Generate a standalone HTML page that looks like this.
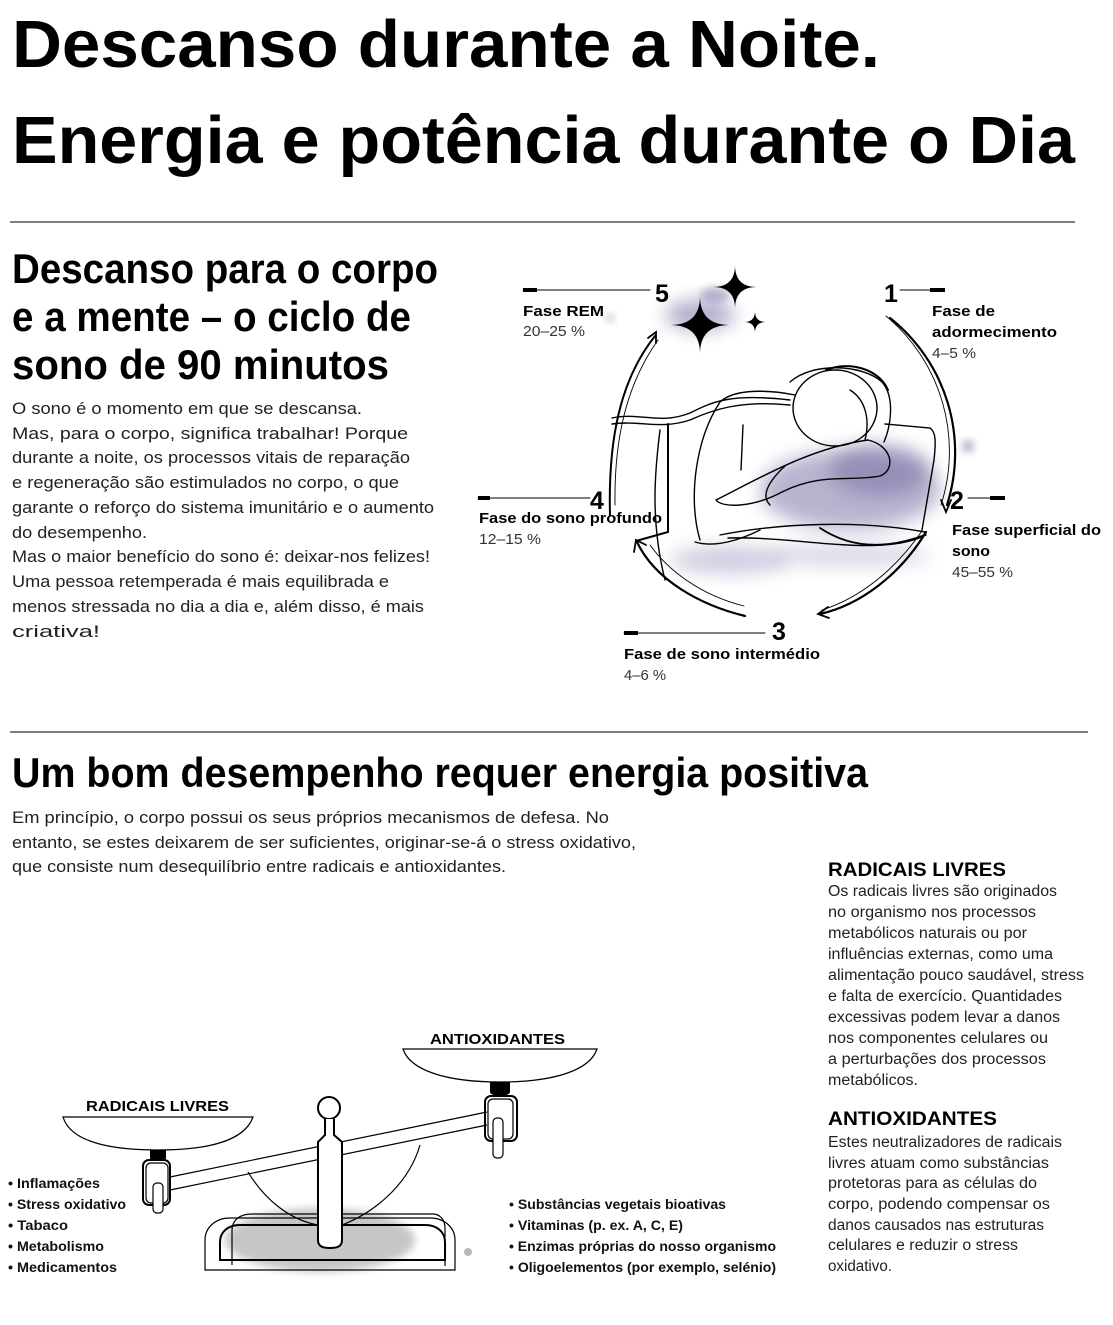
<!DOCTYPE html>
<html><head><meta charset="utf-8"><style>
html,body{margin:0;padding:0;background:#fff}
svg{display:block}
text{font-family:"Liberation Sans",sans-serif;fill:#000}
.t{font-weight:bold;font-size:67px}
.h{font-weight:bold;font-size:42px}
.b{font-size:17px;fill:#222}
.r{font-size:15.5px;fill:#222}
.rh{font-weight:bold;font-size:19px}
.l{font-weight:bold;font-size:15px}
.p{font-size:14.5px;fill:#333}
.n{font-weight:bold;font-size:25px}
.s{font-size:14px;font-weight:bold;fill:#111}
</style></head><body>
<svg width="1113" height="1325" viewBox="0 0 1113 1325" xmlns="http://www.w3.org/2000/svg">
<defs>
<filter id="bl" x="-50%" y="-50%" width="200%" height="200%"><feGaussianBlur stdDeviation="9"/></filter>
<filter id="bl2" x="-50%" y="-50%" width="200%" height="200%"><feGaussianBlur stdDeviation="4"/></filter>
</defs>
<text class="t" x="12" y="67" textLength="868" lengthAdjust="spacingAndGlyphs">Descanso durante a Noite.</text>
<text class="t" x="12" y="163" textLength="1063" lengthAdjust="spacingAndGlyphs">Energia e potência durante o Dia</text>
<line x1="10" y1="222" x2="1075" y2="222" stroke="#333" stroke-width="1.3"/>

<text class="h" x="12" y="283" textLength="426" lengthAdjust="spacingAndGlyphs">Descanso para o corpo</text>
<text class="h" x="12" y="331" textLength="399" lengthAdjust="spacingAndGlyphs">e a mente – o ciclo de</text>
<text class="h" x="12" y="379" textLength="377" lengthAdjust="spacingAndGlyphs">sono de 90 minutos</text>

<text class="b" x="12" y="414" textLength="350" lengthAdjust="spacingAndGlyphs">O sono é o momento em que se descansa.</text>
<text class="b" x="12" y="439" textLength="396" lengthAdjust="spacingAndGlyphs">Mas, para o corpo, significa trabalhar! Porque</text>
<text class="b" x="12" y="463" textLength="398" lengthAdjust="spacingAndGlyphs">durante a noite, os processos vitais de reparação</text>
<text class="b" x="12" y="488" textLength="387" lengthAdjust="spacingAndGlyphs">e regeneração são estimulados no corpo, o que</text>
<text class="b" x="12" y="513" textLength="422" lengthAdjust="spacingAndGlyphs">garante o reforço do sistema imunitário e o aumento</text>
<text class="b" x="12" y="538" textLength="135" lengthAdjust="spacingAndGlyphs">do desempenho.</text>
<text class="b" x="12" y="562" textLength="418" lengthAdjust="spacingAndGlyphs">Mas o maior benefício do sono é: deixar-nos felizes!</text>
<text class="b" x="12" y="587" textLength="377" lengthAdjust="spacingAndGlyphs">Uma pessoa retemperada é mais equilibrada e</text>
<text class="b" x="12" y="612" textLength="412" lengthAdjust="spacingAndGlyphs">menos stressada no dia a dia e, além disso, é mais</text>
<text class="b" x="12" y="637" textLength="88" lengthAdjust="spacingAndGlyphs">criativa!</text>

<!-- sleep diagram -->
<g>
<ellipse cx="850" cy="490" rx="90" ry="40" fill="#8a82b0" opacity="0.6" filter="url(#bl)"/>
<ellipse cx="880" cy="470" rx="50" ry="25" fill="#7f76a8" opacity="0.6" filter="url(#bl)"/>
<ellipse cx="730" cy="560" rx="60" ry="14" fill="#8b83b3" opacity="0.4" filter="url(#bl)"/>
<ellipse cx="850" cy="555" rx="80" ry="12" fill="#8b83b3" opacity="0.3" filter="url(#bl)"/>
<ellipse cx="700" cy="315" rx="35" ry="15" fill="#7f76a8" opacity="0.6" filter="url(#bl)"/>
<ellipse cx="715" cy="295" rx="15" ry="8" fill="#7f76a8" opacity="0.5" filter="url(#bl2)"/>
<circle cx="968" cy="446" r="6" fill="#7f76a8" opacity="0.6" filter="url(#bl2)"/>
<circle cx="610" cy="318" r="4" fill="#7f76a8" opacity="0.5" filter="url(#bl2)"/>
</g>
<g fill="none" stroke="#000" stroke-width="1.4" stroke-linecap="round">
<path d="M890,318 A172,172 0 0 1 947,505" stroke-width="2.2"/>
<path d="M886,316 A176,176 0 0 1 941,505" stroke-width="0.9"/>
<polyline points="941,500 946,512 951,500" stroke-width="1.8"/>
<path d="M926,532 C900,575 860,605 820,614" stroke-width="2.2"/>
<path d="M922,531 C895,570 860,598 822,610" stroke-width="0.9"/>
<polyline points="828,607 818,614 829,618" stroke-width="1.8"/>
<path d="M745,616 C700,605 655,580 637,542" stroke-width="2.2"/>
<path d="M744,606 C700,595 668,570 650,545" stroke-width="0.9"/>
<polyline points="634,552 636,540 646,545" stroke-width="1.8"/>
<path d="M610,515 C608,440 620,380 655,336" stroke-width="2"/>
<path d="M615,505 C614,440 626,385 658,340" stroke-width="0.9"/>
<polyline points="648,338 656,332 656,343" stroke-width="1.8"/>
<line x1="523" y1="290" x2="650" y2="290" stroke-width="1"/>
<line x1="900" y1="290" x2="930" y2="290" stroke-width="1"/>
<line x1="478" y1="498" x2="590" y2="498" stroke-width="1"/>
<line x1="968" y1="498" x2="990" y2="498" stroke-width="1"/>
<line x1="624" y1="633" x2="765" y2="633" stroke-width="1"/>
<!-- person -->
<path d="M612,418 C640,412 660,425 690,413 C712,402 730,393 790,400"/>
<path d="M612,424 C640,420 660,430 690,420 C712,410 740,400 790,405"/>
<path d="M668,424 L668,532 L636,541" stroke-width="2"/>
<path d="M660,430 C655,470 650,520 665,580"/>
<path d="M700,540 C688,500 695,440 720,402 C735,388 770,390 795,395"/>
<path d="M743,425 L741,470"/>
<ellipse cx="835" cy="408" rx="42" ry="38"/>
<path d="M790,382 C812,362 862,364 882,382 C896,398 890,428 884,442"/>
<path d="M826,370 C850,360 880,370 888,390" stroke-width="2"/>
<path d="M850,390 C866,400 870,420 865,440"/>
<path d="M885,424 L930,428 C936,432 936,442 934,460 L922,530"/>
<path d="M716,500 C760,478 810,448 868,440 C893,446 896,470 880,476 C850,482 822,472 782,492 C752,508 722,508 716,500"/>
<path d="M720,535 C780,523 860,520 925,532"/>
<path d="M728,538 C800,536 880,558 926,535"/>
<path d="M820,528 C850,548 885,550 925,535" stroke-width="1.8"/>
<path d="M695,542 C715,548 740,540 760,530"/>
<path d="M785,466 C770,480 760,495 770,505"/>
</g>
<g fill="#000">
<path d="M735,265 Q735,287 757,287 Q735,287 735,309 Q735,287 713,287 Q735,287 735,265Z"/>
<path d="M700,296 Q700,325 730,325 Q700,325 700,354 Q700,325 670,325 Q700,325 700,296Z"/>
<path d="M755,311 Q755,322 766,322 Q755,322 755,333 Q755,322 744,322 Q755,322 755,311Z"/>
<rect x="523" y="288" width="14" height="4"/>
<rect x="930" y="288" width="15" height="4"/>
<rect x="478" y="496" width="12" height="4"/>
<rect x="990" y="496" width="15" height="4"/>
<rect x="624" y="631" width="14" height="4"/>
</g>
<text class="n" x="655" y="302">5</text>
<text class="n" x="884" y="302">1</text>
<text class="n" x="590" y="509">4</text>
<text class="n" x="950" y="509">2</text>
<text class="n" x="772" y="640">3</text>
<text class="l" x="523" y="316" textLength="81" lengthAdjust="spacingAndGlyphs">Fase REM</text>
<text class="p" x="523" y="336" textLength="62" lengthAdjust="spacingAndGlyphs">20–25 %</text>
<text class="l" x="932" y="316" textLength="63" lengthAdjust="spacingAndGlyphs">Fase de</text>
<text class="l" x="932" y="337" textLength="125" lengthAdjust="spacingAndGlyphs">adormecimento</text>
<text class="p" x="932" y="358" textLength="44" lengthAdjust="spacingAndGlyphs">4–5 %</text>
<text class="l" x="479" y="523" textLength="183" lengthAdjust="spacingAndGlyphs">Fase do sono profundo</text>
<text class="p" x="479" y="544" textLength="62" lengthAdjust="spacingAndGlyphs">12–15 %</text>
<text class="l" x="952" y="535" textLength="149" lengthAdjust="spacingAndGlyphs">Fase superficial do</text>
<text class="l" x="952" y="556" textLength="38" lengthAdjust="spacingAndGlyphs">sono</text>
<text class="p" x="952" y="577" textLength="61" lengthAdjust="spacingAndGlyphs">45–55 %</text>
<text class="l" x="624" y="659" textLength="196" lengthAdjust="spacingAndGlyphs">Fase de sono intermédio</text>
<text class="p" x="624" y="680" textLength="42" lengthAdjust="spacingAndGlyphs">4–6 %</text>

<line x1="10" y1="732" x2="1088" y2="732" stroke="#333" stroke-width="1.3"/>
<text class="h" x="12" y="787" textLength="856" lengthAdjust="spacingAndGlyphs">Um bom desempenho requer energia positiva</text>
<text class="b" x="12" y="823" textLength="597" lengthAdjust="spacingAndGlyphs">Em princípio, o corpo possui os seus próprios mecanismos de defesa. No</text>
<text class="b" x="12" y="848" textLength="624" lengthAdjust="spacingAndGlyphs">entanto, se estes deixarem de ser suficientes, originar-se-á o stress oxidativo,</text>
<text class="b" x="12" y="872" textLength="494" lengthAdjust="spacingAndGlyphs">que consiste num desequilíbrio entre radicais e antioxidantes.</text>

<text class="rh" x="828" y="876" textLength="178" lengthAdjust="spacingAndGlyphs">RADICAIS LIVRES</text>
<text class="r" x="828" y="896" textLength="229" lengthAdjust="spacingAndGlyphs">Os radicais livres são originados</text>
<text class="r" x="828" y="917" textLength="208" lengthAdjust="spacingAndGlyphs">no organismo nos processos</text>
<text class="r" x="828" y="938" textLength="199" lengthAdjust="spacingAndGlyphs">metabólicos naturais ou por</text>
<text class="r" x="828" y="959" textLength="225" lengthAdjust="spacingAndGlyphs">influências externas, como uma</text>
<text class="r" x="828" y="980" textLength="256" lengthAdjust="spacingAndGlyphs">alimentação pouco saudável, stress</text>
<text class="r" x="828" y="1001" textLength="234" lengthAdjust="spacingAndGlyphs">e falta de exercício. Quantidades</text>
<text class="r" x="828" y="1022" textLength="232" lengthAdjust="spacingAndGlyphs">excessivas podem levar a danos</text>
<text class="r" x="828" y="1043" textLength="220" lengthAdjust="spacingAndGlyphs">nos componentes celulares ou</text>
<text class="r" x="828" y="1064" textLength="218" lengthAdjust="spacingAndGlyphs">a perturbações dos processos</text>
<text class="r" x="828" y="1085" textLength="90" lengthAdjust="spacingAndGlyphs">metabólicos.</text>
<text class="rh" x="828" y="1125" textLength="169" lengthAdjust="spacingAndGlyphs">ANTIOXIDANTES</text>
<text class="r" x="828" y="1147" textLength="234" lengthAdjust="spacingAndGlyphs">Estes neutralizadores de radicais</text>
<text class="r" x="828" y="1168" textLength="221" lengthAdjust="spacingAndGlyphs">livres atuam como substâncias</text>
<text class="r" x="828" y="1188" textLength="209" lengthAdjust="spacingAndGlyphs">protetoras para as células do</text>
<text class="r" x="828" y="1209" textLength="222" lengthAdjust="spacingAndGlyphs">corpo, podendo compensar os</text>
<text class="r" x="828" y="1230" textLength="216" lengthAdjust="spacingAndGlyphs">danos causados nas estruturas</text>
<text class="r" x="828" y="1250" textLength="190" lengthAdjust="spacingAndGlyphs">celulares e reduzir o stress</text>
<text class="r" x="828" y="1271" textLength="64" lengthAdjust="spacingAndGlyphs">oxidativo.</text>

<!-- scale -->
<ellipse cx="320" cy="1240" rx="95" ry="32" fill="#999" opacity="0.55" filter="url(#bl2)"/>
<circle cx="468" cy="1252" r="4" fill="#888" opacity="0.6"/>
<g fill="none" stroke="#000" stroke-width="1.2">
<path d="M63,1117 L253,1117 C245,1140 210,1150 158,1150 C105,1150 70,1140 63,1117Z" fill="#fff"/>
<path d="M403,1049 L597,1049 C590,1070 555,1082 500,1082 C445,1082 410,1070 403,1049Z" fill="#fff"/>
<path d="M170,1177 L487,1112 M170,1190 L487,1125"/>
<path d="M248,1172 C265,1200 290,1220 318,1225 M342,1225 C380,1210 410,1180 420,1145"/>
<rect x="143" y="1160" width="27" height="45" rx="6" stroke-width="2"/>
<rect x="146" y="1163" width="22" height="40" rx="5"/>
<rect x="153" y="1183" width="10" height="30" rx="4" fill="#fff"/>
<rect x="485" y="1096" width="32" height="45" rx="6" stroke-width="2"/>
<rect x="488" y="1099" width="25" height="40" rx="5"/>
<rect x="493" y="1118" width="10" height="40" rx="4" fill="#fff"/>
<path d="M205,1268 L205,1240 C205,1228 215,1218 230,1218 L430,1218 C445,1218 455,1228 455,1240 L455,1270 L205,1270Z"/>
<path d="M220,1260 L220,1242 C220,1232 228,1225 240,1225 L425,1225 C437,1225 445,1232 445,1242 L445,1260 Z" stroke-width="2"/>
<path d="M232,1265 L232,1230 C232,1220 240,1214 252,1214 L433,1214 C440,1214 445,1220 445,1228 L445,1266"/>
<circle cx="329" cy="1108" r="11" fill="#fff" stroke-width="2"/>
<path d="M325,1119 L325,1135 L318,1142 L318,1240 C318,1246 322,1248 330,1248 C338,1248 342,1246 342,1240 L342,1142 L334,1135 L334,1119" fill="#fff" stroke-width="2"/>
</g>
<path d="M150,1150 L166,1150 L166,1158 C166,1162 150,1162 150,1158Z" fill="#000"/>
<path d="M490,1082 L510,1082 L510,1092 C510,1097 490,1097 490,1092Z" fill="#000"/>
<text class="l" x="430" y="1044" textLength="135" lengthAdjust="spacingAndGlyphs">ANTIOXIDANTES</text>
<text class="l" x="86" y="1111" textLength="143" lengthAdjust="spacingAndGlyphs">RADICAIS LIVRES</text>
<text class="s" x="8" y="1188" textLength="92" lengthAdjust="spacingAndGlyphs">• Inflamações</text>
<text class="s" x="8" y="1209" textLength="118" lengthAdjust="spacingAndGlyphs">• Stress oxidativo</text>
<text class="s" x="8" y="1230" textLength="60" lengthAdjust="spacingAndGlyphs">• Tabaco</text>
<text class="s" x="8" y="1251" textLength="96" lengthAdjust="spacingAndGlyphs">• Metabolismo</text>
<text class="s" x="8" y="1272" textLength="109" lengthAdjust="spacingAndGlyphs">• Medicamentos</text>
<text class="s" x="509" y="1209" textLength="217" lengthAdjust="spacingAndGlyphs">• Substâncias vegetais bioativas</text>
<text class="s" x="509" y="1230" textLength="174" lengthAdjust="spacingAndGlyphs">• Vitaminas (p. ex. A, C, E)</text>
<text class="s" x="509" y="1251" textLength="267" lengthAdjust="spacingAndGlyphs">• Enzimas próprias do nosso organismo</text>
<text class="s" x="509" y="1272" textLength="267" lengthAdjust="spacingAndGlyphs">• Oligoelementos (por exemplo, selénio)</text>
</svg>
</body></html>
